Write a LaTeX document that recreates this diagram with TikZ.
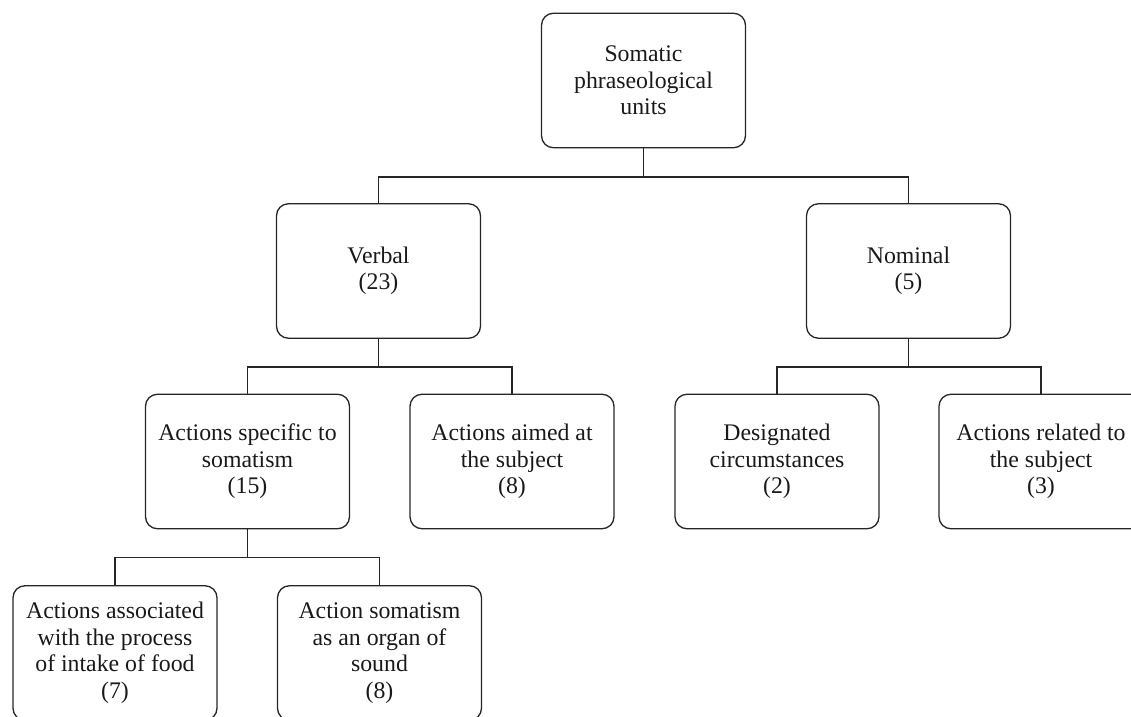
\documentclass[tikz,border=0pt]{standalone}
\usepackage{fontspec}
\setmainfont{Liberation Serif}
\begin{document}
\begin{tikzpicture}[x=1pt,y=1pt,
  box/.style={draw=black!85, line width=1.3pt, rounded corners=12pt,
    minimum width=204pt, minimum height=134.5pt, inner sep=0pt, align=center,
    font=\fontsize{23.8}{26.5}\selectfont, text=black!90},
  link/.style={draw=black!85, line width=1.3pt}]
\useasboundingbox (0,0) rectangle (1131,716);
\node[box] (root) at (643.5,635.5) {Somatic\\phraseological\\units};
\node[box] (verbal) at (378.5,445) {Verbal\\(23)};
\node[box] (nominal) at (908.5,445) {Nominal\\(5)};
\node[box] (aspec) at (247.5,254.5) {Actions specific to\\somatism\\(15)};
\node[box] (aaimed) at (512,254.5) {Actions aimed at\\the subject\\(8)};
\node[box] (desig) at (777,254.5) {Designated\\circumstances\\(2)};
\node[box] (arel) at (1041,254.5) {Actions related to\\the subject\\(3)};
\node[box] (aassoc) at (115,63) {Actions associated\\with the process\\of intake of food\\(7)};
\node[box] (asound) at (379.5,63) {Action somatism\\as an organ of\\sound\\(8)};
\draw[link] (root.south) -- ++(0,-28.5) -| (verbal.north);
\draw[link] (root.south) -- ++(0,-28.5) -| (nominal.north);
\draw[link] (verbal.south) -- ++(0,-28) -| (aspec.north);
\draw[link] (verbal.south) -- ++(0,-28) -| (aaimed.north);
\draw[link] (nominal.south) -- ++(0,-28) -| (desig.north);
\draw[link] (nominal.south) -- ++(0,-28) -| (arel.north);
\draw[link] (aspec.south) -- ++(0,-28) -| (aassoc.north);
\draw[link] (aspec.south) -- ++(0,-28) -| (asound.north);
\end{tikzpicture}
\end{document}
